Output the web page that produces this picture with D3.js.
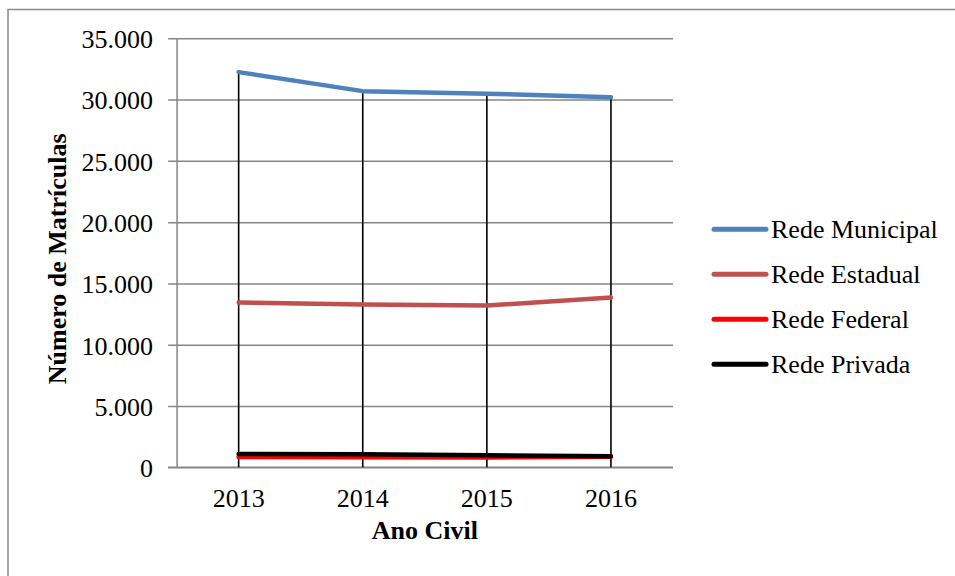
<!DOCTYPE html>
<html>
<head>
<meta charset="utf-8">
<script src="https://cdn.jsdelivr.net/npm/d3@7"></script>
<style>
  html, body { margin: 0; padding: 0; background: #fff; }
  svg { display: block; }
  text { font-family: "Liberation Serif", "Times New Roman", serif; fill: #000; }
</style>
</head>
<body>
<svg id="chart" width="955" height="576"></svg>
<script>
// Matrículas por rede de ensino, 2013–2016
const years = ["2013", "2014", "2015", "2016"];
const municipal = [32240, 30690, 30480, 30200];
const estadual  = [13450, 13280, 13200, 13850];
const federal   = [850, 820, 800, 860];
const privada   = [1090, 1060, 980, 910];
const seriesNames = ["Rede Municipal", "Rede Estadual", "Rede Federal", "Rede Privada"];
const seriesColors = ["#4F81BD", "#C0504D", "#FF0000", "#000000"];
const yTicks = [0, 5000, 10000, 15000, 20000, 25000, 30000, 35000];

const series = [municipal, estadual, federal, privada].map((vals, i) => ({
  name: seriesNames[i], color: seriesColors[i], values: vals
}));

const svg = d3.select("#chart");
const plot = { left: 176.6, right: 673, top: 38.3, bottom: 467.3 };

// outer frame of the chart area
svg.append("rect")
  .attr("x", 8).attr("y", 9.5)
  .attr("width", 1000).attr("height", 700)
  .attr("fill", "none").attr("stroke", "#8c8c8c").attr("stroke-width", 1.5);

const x = d3.scaleBand().domain(years).range([plot.left, plot.right]).padding(0);
const y = d3.scaleLinear().domain([0, 35000]).range([plot.bottom, plot.top]);
const fmt = v => d3.format(",")(v).replace(/,/g, ".");

// horizontal gridlines with left tick marks
const yAxis = d3.axisLeft(y).tickValues(yTicks).tickFormat(fmt)
  .tickSize(-(plot.right - plot.left)).tickSizeOuter(0).tickPadding(0);
const gy = svg.append("g").attr("transform", `translate(${plot.left},0)`).call(yAxis);
gy.select(".domain").attr("stroke", "#868686").attr("stroke-width", 1.5);
gy.selectAll(".tick line").attr("stroke", "#868686").attr("stroke-width", 1.5).attr("x1", -8.5);
gy.selectAll(".tick text")
  .attr("x", -23.5).attr("dy", "0.36em")
  .style("font-size", "26px").style("font-family", "Liberation Serif, Times New Roman, serif")
  .attr("fill", "#000");

// category axis
const xAxis = d3.axisBottom(x).tickSize(0).tickPadding(0);
const gx = svg.append("g").attr("transform", `translate(0,${plot.bottom})`).call(xAxis);
gx.select(".domain").attr("stroke", "#868686").attr("stroke-width", 1.5)
  .attr("d", `M${plot.left - 8.5},0H${plot.right}`);
gx.selectAll(".tick text")
  .attr("y", 40).attr("dy", 0)
  .style("font-size", "26px").style("font-family", "Liberation Serif, Times New Roman, serif")
  .attr("fill", "#000");

const cx = d => x(d) + x.bandwidth() / 2;

// drop lines from the highest point of each year to the axis
svg.append("g").selectAll("line")
  .data(years)
  .join("line")
  .attr("x1", d => cx(d)).attr("x2", d => cx(d))
  .attr("y1", (d, i) => y(d3.max(series, s => s.values[i])))
  .attr("y2", y(0))
  .attr("stroke", "#000").attr("stroke-width", 1.6);

// series lines
const line = d3.line().x((v, i) => cx(years[i])).y(v => y(v));
svg.append("g").selectAll("path")
  .data(series)
  .join("path")
  .attr("d", s => line(s.values))
  .attr("fill", "none")
  .attr("stroke", s => s.color)
  .attr("stroke-width", 4.5)
  .attr("stroke-linecap", "round")
  .attr("stroke-linejoin", "round");

// axis titles
svg.append("text")
  .attr("x", (plot.left + plot.right) / 2).attr("y", 539)
  .attr("text-anchor", "middle")
  .style("font-size", "26px").style("font-weight", "bold")
  .text("Ano Civil");

svg.append("text")
  .attr("transform", `translate(66,${(plot.top + plot.bottom) / 2 + 6}) rotate(-90)`)
  .attr("text-anchor", "middle")
  .style("font-size", "26px").style("font-weight", "bold")
  .text("Número de Matrículas");

// legend
const legend = svg.append("g");
const lg = legend.selectAll("g")
  .data(series)
  .join("g")
  .attr("transform", (s, i) => `translate(0,${229.3 + i * 45})`);
lg.append("line")
  .attr("x1", 714).attr("x2", 766)
  .attr("stroke", s => s.color).attr("stroke-width", 5)
  .attr("stroke-linecap", "round");
lg.append("text")
  .attr("x", 771).attr("y", 9)
  .style("font-size", "26px")
  .text(s => s.name);
</script>
</body>
</html>
